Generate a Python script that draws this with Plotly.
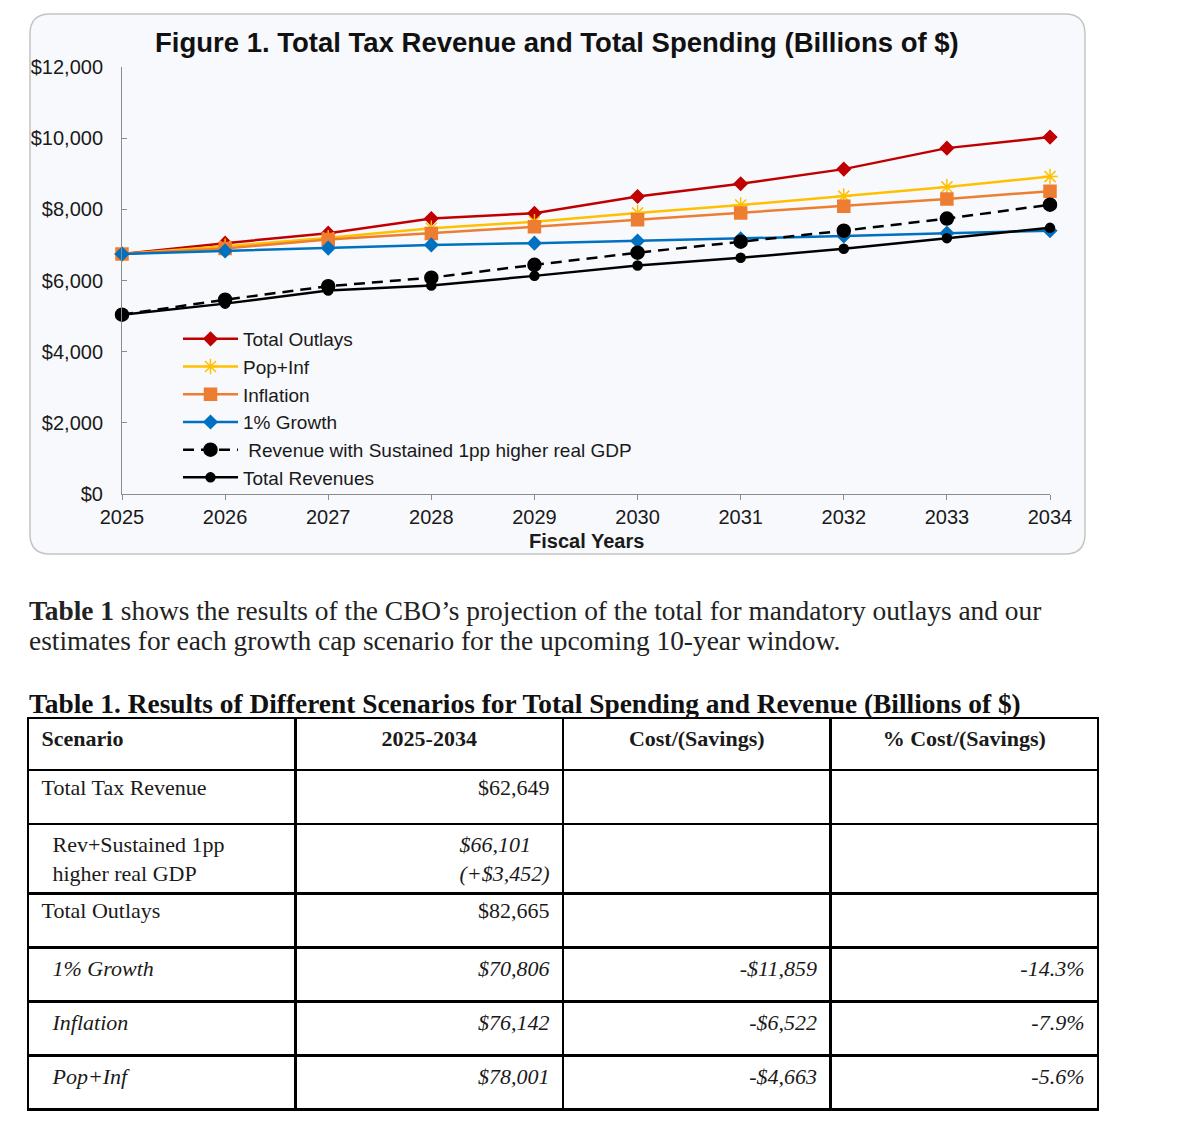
import plotly.graph_objects as go

# page offset: the browser body has an 8px margin
OFF = 8
W, H = 1179 - 2 * OFF, 1131 - 2 * OFF

years = [2025, 2026, 2027, 2028, 2029, 2030, 2031, 2032, 2033, 2034]
total_outlays = [6745, 7050, 7330, 7740, 7890, 8360, 8720, 9130, 9720, 10030]
pop_inf = [6745, 6960, 7200, 7470, 7650, 7900, 8120, 8370, 8630, 8920]
inflation = [6745, 6900, 7150, 7320, 7510, 7710, 7900, 8090, 8290, 8510]
growth_1pct = [6745, 6830, 6910, 7000, 7050, 7110, 7170, 7250, 7330, 7400]
rev_sustained = [5040, 5460, 5840, 6080, 6440, 6780, 7090, 7400, 7740, 8130]
total_revenues = [5040, 5350, 5720, 5860, 6130, 6420, 6640, 6890, 7190, 7480]

y_ticks = [0, 2000, 4000, 6000, 8000, 10000, 12000]
y_tick_labels = ["$0", "$2,000", "$4,000", "$6,000", "$8,000", "$10,000", "$12,000"]

table_header = ["Scenario", "2025-2034", "Cost/(Savings)", "% Cost/(Savings)"]
scenarios = ["Total Tax Revenue", "Rev+Sustained 1pp\nhigher real GDP", "Total Outlays",
             "1% Growth", "Inflation", "Pop+Inf"]
totals_2025_2034 = ["$62,649", "$66,101\n(+$3,452)", "$82,665", "$70,806", "$76,142", "$78,001"]
cost_savings = ["", "", "", "-$11,859", "-$6,522", "-$4,663"]
pct_cost_savings = ["", "", "", "-14.3%", "-7.9%", "-5.6%"]
italic_values = [False, True, False, True, True, True]
indented_rows = [False, True, False, True, True, True]
italic_names = [False, False, False, True, True, True]

series = [
    ("Total Outlays", total_outlays, "#c00000", "diamond", 10, "solid"),
    ("Pop+Inf", pop_inf, "#ffc000", "asterisk-open", 13, "solid"),
    ("Inflation", inflation, "#ed7d31", "square", 12, "solid"),
    ("1% Growth", growth_1pct, "#0070c0", "diamond", 10, "solid"),
    (" Revenue with Sustained 1pp higher real GDP", rev_sustained, "#000000", "circle", 13, "11px,7px"),
    ("Total Revenues", total_revenues, "#000000", "circle", 9, "solid"),
]

NB = "\u00a0"


def cell(text, italic=False, lead="", trail=""):
    if text == "":
        return ""
    out = []
    for ln in text.split("\n"):
        t = f"<i>{ln}</i>" if italic else ln
        out.append(lead + t + trail)
    return "<br>".join(out)


col0 = [cell(s, italic_names[i], lead=NB * (3 if indented_rows[i] else 1))
        for i, s in enumerate(scenarios)]
col1 = [cell(s, italic_values[i], trail=NB) for i, s in enumerate(totals_2025_2034)]
col2 = [cell(s, italic_values[i], trail=NB) for i, s in enumerate(cost_savings)]
col3 = [cell(s, italic_values[i], trail=NB) for i, s in enumerate(pct_cost_savings)]
header_vals = [NB + f"<b>{table_header[0]}</b>"] + [f"<b>{h}</b>" for h in table_header[1:]]


def px_x(p):
    return (p - OFF) / W


def px_y(p):
    return 1 - (p - OFF) / H


fig = go.Figure()
for i, (name, vals, col, sym, size, dash) in enumerate(series):
    fig.add_trace(go.Scatter(
        x=years, y=vals, name=name, mode="lines+markers",
        line=dict(color=col, width=2.5, dash=dash),
        marker=dict(symbol=sym, size=size, color=col,
                    line=dict(color=col, width=1.5)),
        cliponaxis=False,
    ))

fig.add_trace(go.Table(
    domain=dict(x=[px_x(28), px_x(1098)], y=[px_y(1121), px_y(718)]),
    columnwidth=[1, 1, 1, 1],
    header=dict(values=header_vals,
                align=["left", "center", "center", "center"],
                font=dict(family="Liberation Serif", size=22, color="#1a1a1a"),
                fill_color="white", line=dict(color="black", width=2.5),
                height=52),
    cells=dict(values=[col0, col1, col2, col3],
               align=["left", "right", "right", "right"],
               font=dict(family="Liberation Serif", size=22, color="#1a1a1a"),
               fill_color="white", line=dict(color="black", width=2.5),
               height=54),
))

# card background with rounded corners
x0, x1, y0, y1 = px_x(30), px_x(1085), px_y(554), px_y(14)
rx, ry = 20 / W, 20 / H
path = (f"M {x0+rx},{y1} L {x1-rx},{y1} Q {x1},{y1} {x1},{y1-ry} "
        f"L {x1},{y0+ry} Q {x1},{y0} {x1-rx},{y0} L {x0+rx},{y0} "
        f"Q {x0},{y0} {x0},{y0+ry} L {x0},{y1-ry} Q {x0},{y1} {x0+rx},{y1} Z")
fig.add_shape(type="path", path=path, xref="paper", yref="paper",
              fillcolor="#f8f9fc", line=dict(color="#c4c4c4", width=1.5), layer="below")

fig.update_layout(
    width=W, height=H,
    margin=dict(l=0, r=0, t=0, b=0, pad=0, autoexpand=False),
    paper_bgcolor="white", plot_bgcolor="white",
    font=dict(family="Liberation Sans", size=20, color="#1a1a1a"),
    showlegend=True,
    legend=dict(x=px_x(178), y=px_y(320), xanchor="left", yanchor="top",
                bgcolor="rgba(0,0,0,0)", font=dict(size=19, color="#1a1a1a"),
                itemwidth=55, tracegroupgap=0, traceorder="normal"),
    xaxis=dict(domain=[px_x(122), px_x(1050)], range=[2025, 2034], automargin=False,
               tickmode="array", tickvals=years, showgrid=False, zeroline=False,
               showline=True, linecolor="#8c8c8c", linewidth=1,
               ticks="outside", ticklen=5, tickcolor="#8c8c8c",
               tickfont=dict(size=20, color="#1a1a1a")),
    yaxis=dict(domain=[px_y(494), px_y(67)], range=[0, 12000], automargin=False,
               tickmode="array", tickvals=y_ticks, ticktext=y_tick_labels,
               showgrid=False, zeroline=False,
               showline=True, linecolor="#8c8c8c", linewidth=1,
               ticks="inside", ticklen=5, tickcolor="#8c8c8c",
               ticklabelstandoff=14,
               tickfont=dict(size=20, color="#1a1a1a")),
    annotations=[
        dict(text="<b>Figure 1. Total Tax Revenue and Total Spending (Billions of $)</b>",
             x=px_x(557), y=px_y(43), xref="paper", yref="paper",
             showarrow=False, font=dict(size=27.5, color="#111111"),
             xanchor="center", yanchor="middle"),
        dict(text="<b>Fiscal Years</b>",
             x=px_x(586), y=px_y(541), xref="paper", yref="paper",
             showarrow=False, font=dict(size=20, color="#1a1a1a"),
             xanchor="center", yanchor="middle"),
        dict(text="<b>Table 1</b> shows the results of the CBO\u2019s projection of the total for mandatory outlays and our",
             x=px_x(27), y=px_y(611), xref="paper", yref="paper",
             showarrow=False, align="left", xanchor="left", yanchor="middle",
             font=dict(family="Liberation Serif", size=27.4, color="#222222")),
        dict(text="estimates for each growth cap scenario for the upcoming 10-year window.",
             x=px_x(27), y=px_y(641), xref="paper", yref="paper",
             showarrow=False, align="left", xanchor="left", yanchor="middle",
             font=dict(family="Liberation Serif", size=27.4, color="#222222")),
        dict(text="<b>Table 1. Results of Different Scenarios for Total Spending and Revenue (Billions of $)</b>",
             x=px_x(27), y=px_y(704), xref="paper", yref="paper",
             showarrow=False, align="left", xanchor="left", yanchor="middle",
             font=dict(family="Liberation Serif", size=27.4, color="#111111")),
    ],
)

fig.write_html("out.html")
